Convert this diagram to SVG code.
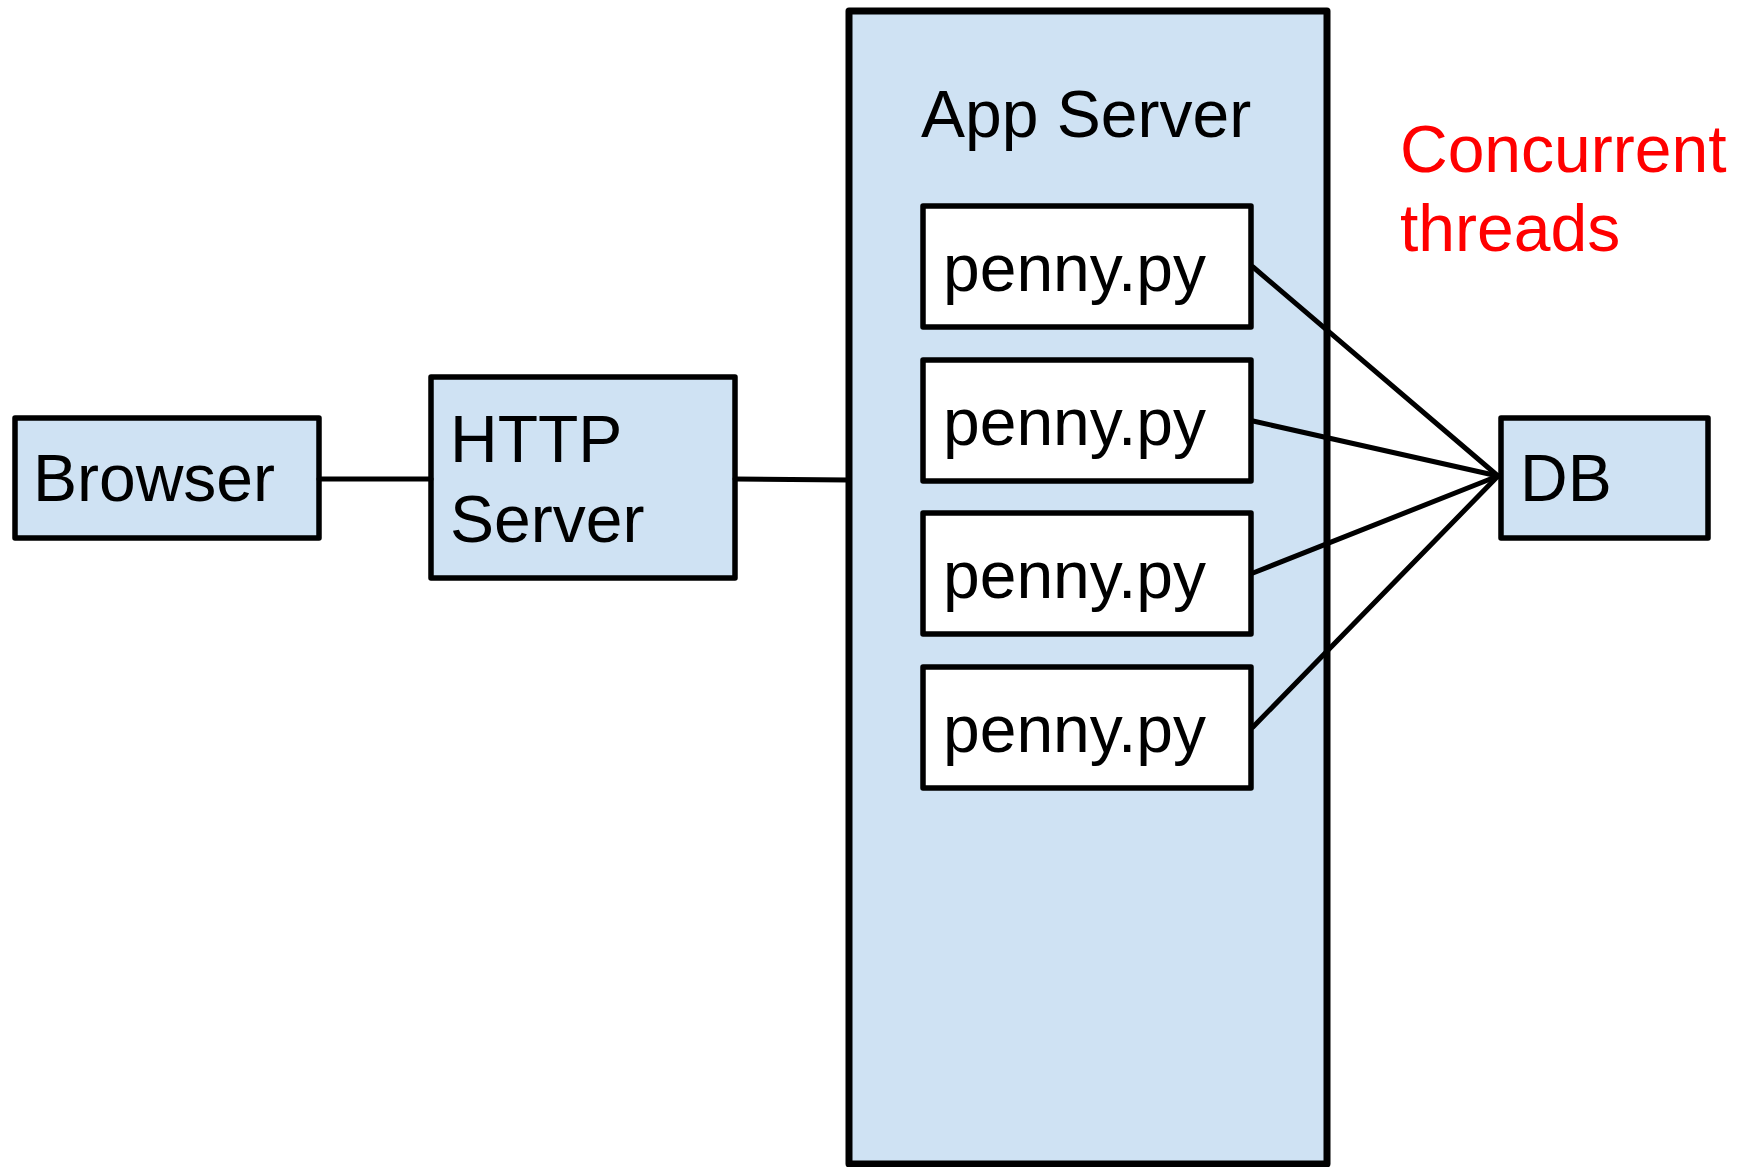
<svg xmlns="http://www.w3.org/2000/svg" width="1745" height="1167" viewBox="0 0 1745 1167">
<style>
.box{fill:#cfe2f3;stroke:#000;stroke-width:5.5;stroke-linejoin:round}
.thread{fill:#fff;stroke:#000;stroke-width:5.5;stroke-linejoin:round}
.lbl{font-family:"Liberation Sans",Arial,sans-serif;font-size:66px;fill:#000}
.red{fill:#ff0000}
.conn line{stroke:#000;stroke-width:5;stroke-linecap:round}
</style>
<rect width="1745" height="1167" fill="#fff"/>
<g id="appserver">
<rect class="box" x="849" y="11" width="478" height="1153" style="stroke-width:7"/>
<text class="lbl" x="921" y="137">App Server</text>
</g>
<g id="browser">
<rect class="box" x="15" y="418" width="304" height="120"/>
<text class="lbl" x="33" y="501">Browser</text>
</g>
<g id="http">
<rect class="box" x="431" y="377" width="304" height="201"/>
<text class="lbl" x="450" y="462">HTTP</text>
<text class="lbl" x="450" y="542">Server</text>
</g>
<g id="thread1">
<rect class="thread" x="923" y="206" width="328" height="121"/>
<text class="lbl" x="943" y="291">penny.py</text>
</g>
<g id="thread2">
<rect class="thread" x="923" y="360" width="328" height="121"/>
<text class="lbl" x="943" y="445">penny.py</text>
</g>
<g id="thread3">
<rect class="thread" x="923" y="513" width="328" height="121"/>
<text class="lbl" x="943" y="598">penny.py</text>
</g>
<g id="thread4">
<rect class="thread" x="923" y="667" width="328" height="121"/>
<text class="lbl" x="943" y="752">penny.py</text>
</g>
<g id="db">
<rect class="box" x="1501" y="418" width="207" height="120"/>
<text class="lbl" x="1520" y="501">DB</text>
</g>
<g id="note">
<text class="lbl red" x="1400" y="172">Concurrent</text>
<text class="lbl red" x="1400" y="251">threads</text>
</g>
<g class="conn" id="connectors">
<line x1="319" y1="479" x2="431" y2="479"/>
<line x1="735" y1="479" x2="849" y2="480"/>
<line x1="1253" y1="267" x2="1498" y2="476"/>
<line x1="1253" y1="421" x2="1498" y2="476"/>
<line x1="1253" y1="573" x2="1498" y2="476"/>
<line x1="1253" y1="727" x2="1498" y2="476"/>
</g>
</svg>
